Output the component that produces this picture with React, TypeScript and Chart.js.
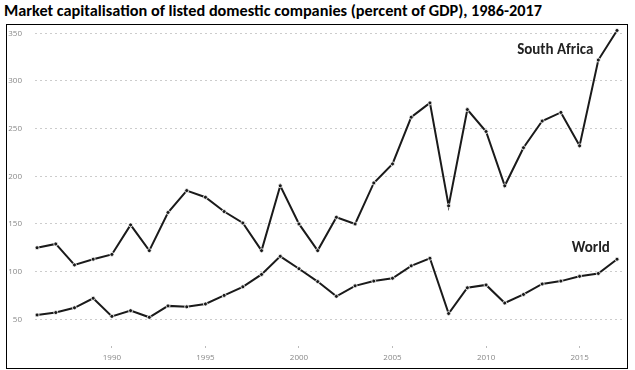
import React, { useEffect, useRef } from "react";
import { Chart, registerables } from "chart.js";

Chart.register(...registerables);

const title = "Market capitalisation of listed domestic companies (percent of GDP), 1986-2017";
const years = [1986, 1987, 1988, 1989, 1990, 1991, 1992, 1993, 1994, 1995, 1996, 1997, 1998, 1999, 2000, 2001, 2002, 2003, 2004, 2005, 2006, 2007, 2008, 2009, 2010, 2011, 2012, 2013, 2014, 2015, 2016, 2017];
const southAfrica = [125, 129, 107, 113, 118, 149, 122, 162, 185, 178, 163, 151, 122, 190, 150, 122, 157, 150, 193, 213, 262, 277, 169, 270, 247, 190, 230, 258, 267, 232, 322, 353];
const world = [54.5, 57, 62, 72, 53, 59, 52, 64, 63, 66, 75, 84, 97, 116, 103, 89.5, 74, 85, 90, 93, 106, 114, 56, 83, 86, 67, 76, 87, 90, 95, 98, 113];
const yTicks = [50, 100, 150, 200, 250, 300, 350];
const xTicks = [1990, 1995, 2000, 2005, 2010, 2015];
const seriesLabels = ["South Africa", "World"];
const labelYears = [2013.7, 2015.6];
const labelValues = [332, 124.5];

const labelPlugin = {
  id: "seriesLabels",
  afterDatasetsDraw(chart: any) {
    const { ctx, scales } = chart;
    ctx.save();
    ctx.font = "bold 15px Carlito, Lato, 'Liberation Sans', sans-serif";
    ctx.fillStyle = "#222";
    ctx.textAlign = "center";
    ctx.textBaseline = "middle";
    seriesLabels.forEach((t, i) => {
      ctx.fillText(t, scales.x.getPixelForValue(labelYears[i]), scales.y.getPixelForValue(labelValues[i]));
    });
    ctx.restore();
  },
};

export default function App() {
  const ref = useRef<HTMLCanvasElement>(null);
  useEffect(() => {
    if (!ref.current) return;
    const lineStyle = {
      borderColor: "#1a1a1a",
      borderWidth: 2,
      pointRadius: 2,
      pointBackgroundColor: "#1a1a1a",
      pointBorderColor: "#ffffff",
      pointBorderWidth: 0.8,
      tension: 0,
    };
    const chart = new Chart(ref.current, {
      type: "line",
      data: {
        datasets: [
          { label: "South Africa", data: years.map((y, i) => ({ x: y, y: southAfrica[i] })), ...lineStyle },
          { label: "World", data: years.map((y, i) => ({ x: y, y: world[i] })), ...lineStyle },
        ],
      },
      options: {
        animation: false,
        responsive: false,
        maintainAspectRatio: false,
        layout: { padding: { left: 0, top: 26, right: 12, bottom: 0 } },
        plugins: { legend: { display: false }, tooltip: { enabled: false }, title: { display: false } },
        scales: {
          x: {
            type: "linear",
            min: 1985.89,
            max: 2017.32,
            afterBuildTicks: (s: any) => { s.ticks = xTicks.map((v) => ({ value: v })); },
            afterFit: (s: any) => { s.height = 24; },
            border: { display: false },
            grid: { drawOnChartArea: false, drawTicks: true, tickLength: 2, color: "#bbbbbb" },
            ticks: { padding: 5, color: "#888", font: { size: 8, family: "'Open Sans', sans-serif" }, callback: (v: any) => String(v) },
          },
          y: {
            type: "linear",
            min: 21.9,
            max: 357.7,
            afterBuildTicks: (s: any) => { s.ticks = yTicks.map((v) => ({ value: v })); },
            afterFit: (s: any) => { s.width = 35; },
            border: { display: false, dash: [2, 3] },
            grid: { drawTicks: false, color: "#cccccc", lineWidth: 1 },
            ticks: { padding: 13, color: "#888", font: { size: 8, family: "'Open Sans', sans-serif" } },
          },
        },
      },
      plugins: [labelPlugin],
    });
    return () => chart.destroy();
  }, []);
  return (
    <div style={{ position: "absolute", left: 0, top: 0, width: 635, height: 370, background: "#fff" }}>
      <div style={{ position: "absolute", left: 4, top: 0, font: "bold 16.3px Carlito, Lato, 'Liberation Sans', sans-serif", lineHeight: "20px", color: "#000", whiteSpace: "nowrap" }}>{title}</div>
      <div style={{ position: "absolute", left: 6, top: 24, width: 620, height: 343, border: "1px solid #000" }} />
      <canvas ref={ref} width={635} height={370} style={{ position: "absolute", left: 0, top: 0, width: 635, height: 370 }} />
    </div>
  );
}
